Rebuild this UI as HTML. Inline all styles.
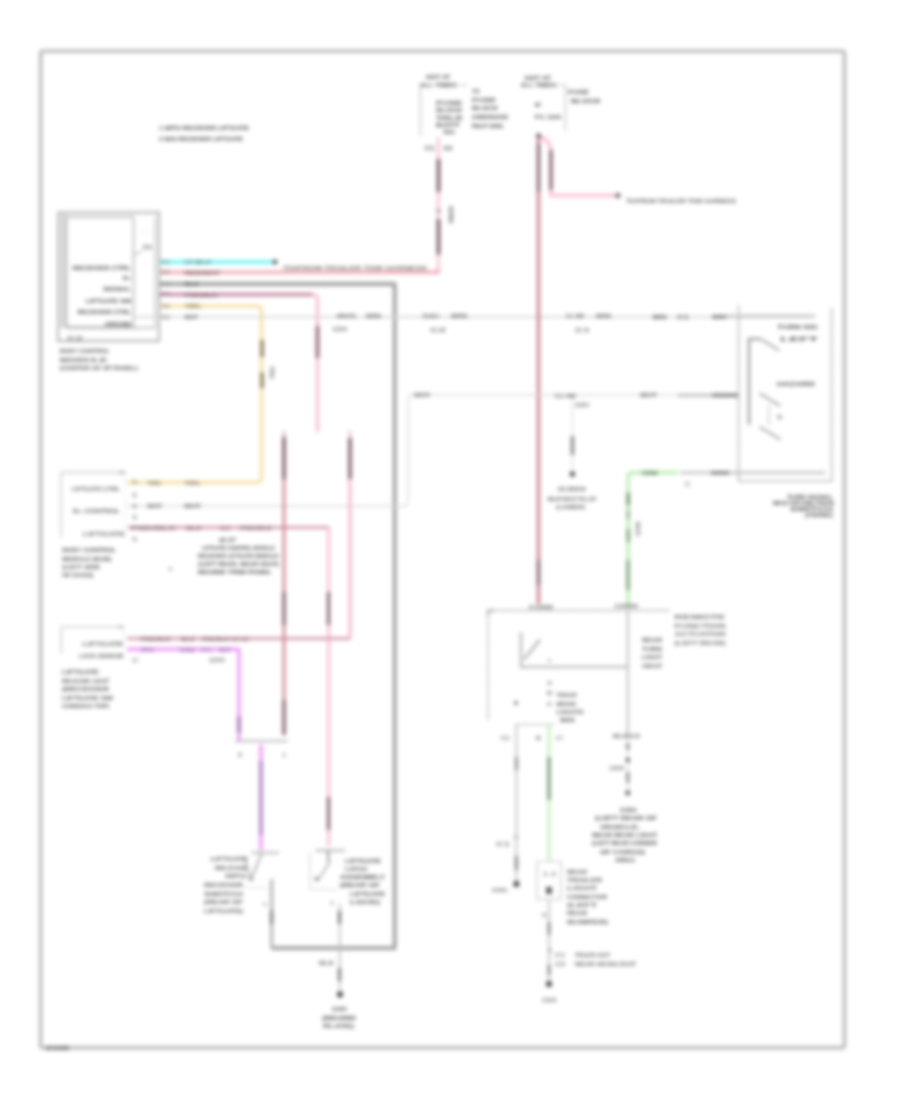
<!DOCTYPE html>
<html><head><meta charset="utf-8"><title>Wiring Diagram</title>
<style>
html,body{margin:0;padding:0;background:#fff;width:900px;height:1100px;overflow:hidden;}
svg{position:absolute;left:0;top:0;filter:blur(2.0px);}
text{font-family:"Liberation Sans",sans-serif;}
</style></head><body>
<svg width="900" height="1100" viewBox="0 0 900 1100">
<rect x="40.7" y="51.1" width="803.7" height="996.7" fill="none" stroke="#b8b8b8" stroke-width="3.4" rx="2"/>
<text x="46" y="1049.5" font-size="6.05" fill="#3a3a3a" font-weight="bold" textLength="23.0" lengthAdjust="spacingAndGlyphs">G100</text>
<text x="159" y="129.7" font-size="6.05" fill="#383838" font-weight="bold" textLength="90.0" lengthAdjust="spacingAndGlyphs">1 WITH RECEIVER LIFTGATE</text>
<text x="159" y="141.2" font-size="6.05" fill="#383838" font-weight="bold" textLength="84.0" lengthAdjust="spacingAndGlyphs">2 W/O RECEIVER LIFTGATE</text>
<rect x="58" y="212.5" width="101" height="128.5" fill="none" stroke="#acacac" stroke-width="2" />
<rect x="58" y="213" width="8.5" height="115" fill="#dadada" stroke="none" stroke-width="1" />
<rect x="66.5" y="217" width="67" height="110" fill="none" stroke="#acacac" stroke-width="1.5" />
<line x1="66.5" y1="328" x2="155" y2="328" stroke="#acacac" stroke-width="1.5" />
<line x1="155" y1="217" x2="155" y2="328" stroke="#bdbdbd" stroke-width="1.4" />
<text x="67" y="339.8" font-size="4.95" fill="#777" font-weight="bold" textLength="16.0" lengthAdjust="spacingAndGlyphs">C2</text>
<text x="141" y="232.4" font-size="3.85" fill="#aaa" font-weight="bold" textLength="11.0" lengthAdjust="spacingAndGlyphs">- - -</text>
<text x="143" y="249.0" font-size="5.5" fill="#383838" font-weight="bold" textLength="9.0" lengthAdjust="spacingAndGlyphs">C1</text>
<line x1="134" y1="255" x2="142" y2="251" stroke="#999" stroke-width="1" />
<text x="72.5" y="269.7" font-size="6.05" fill="#383838" font-weight="bold" textLength="58.5" lengthAdjust="spacingAndGlyphs">RECEIVER CTRL</text>
<text x="123" y="280.2" font-size="6.05" fill="#383838" font-weight="bold" textLength="8.0" lengthAdjust="spacingAndGlyphs">B+</text>
<text x="103" y="291.2" font-size="6.05" fill="#383838" font-weight="bold" textLength="28.0" lengthAdjust="spacingAndGlyphs">SIGNAL</text>
<text x="86" y="303.2" font-size="6.05" fill="#383838" font-weight="bold" textLength="45.0" lengthAdjust="spacingAndGlyphs">LIFTGATE SW</text>
<text x="77.5" y="314.2" font-size="6.05" fill="#383838" font-weight="bold" textLength="53.5" lengthAdjust="spacingAndGlyphs">RECEIVER CTRL</text>
<text x="105" y="326.2" font-size="6.05" fill="#383838" font-weight="bold" textLength="26.0" lengthAdjust="spacingAndGlyphs">GROUND</text>
<text x="59.8" y="353.0" font-size="5.5" fill="#4a4a4a" font-weight="bold" textLength="50.0" lengthAdjust="spacingAndGlyphs">BODY CONTROL</text>
<text x="59.8" y="361.5" font-size="5.5" fill="#4a4a4a" font-weight="bold" textLength="47.5" lengthAdjust="spacingAndGlyphs">MODULE</text>
<text x="59.8" y="370.0" font-size="5.5" fill="#4a4a4a" font-weight="bold" textLength="78.0" lengthAdjust="spacingAndGlyphs">(CENTER OF I/P PANEL)</text>
<line x1="159" y1="262" x2="275" y2="262" stroke="#6bf5f5" stroke-width="3.6" />
<circle cx="275" cy="262" r="2.4" fill="#555"/>
<path d="M159 272.3 H438.3 V268" fill="none" stroke="#ef9fad" stroke-width="3" stroke-linejoin="round" />
<path d="M438.3 270 V137" fill="none" stroke="#f5c4ce" stroke-width="2.8" stroke-linejoin="round" />
<path d="M159 284 H394.7 V948.2 H271.7" fill="none" stroke="#9f9f9f" stroke-width="3.8" stroke-linejoin="round" />
<path d="M159 294.5 H312" fill="none" stroke="#c07695" stroke-width="3" stroke-linejoin="round" />
<path d="M312 294.5 Q317.5 294.5 317.5 300 V432" fill="none" stroke="#f9b9cd" stroke-width="3" stroke-linejoin="round" />
<path d="M159 306 H256.5 Q261.5 306 261.5 311 V477.5 Q261.5 482.5 256.5 482.5 H127" fill="none" stroke="#f3dc9a" stroke-width="3" stroke-linejoin="round" />
<line x1="132" y1="317" x2="815" y2="317" stroke="#d9d9d9" stroke-width="1.8" />
<text x="161" y="263.8" font-size="4.95" fill="#777" font-weight="bold" textLength="9.0" lengthAdjust="spacingAndGlyphs">C1</text>
<text x="161" y="274.3" font-size="4.95" fill="#777" font-weight="bold" textLength="9.0" lengthAdjust="spacingAndGlyphs">C1</text>
<text x="161" y="285.8" font-size="4.95" fill="#777" font-weight="bold" textLength="9.0" lengthAdjust="spacingAndGlyphs">C1</text>
<text x="161" y="296.3" font-size="4.95" fill="#777" font-weight="bold" textLength="9.0" lengthAdjust="spacingAndGlyphs">C1</text>
<text x="161" y="307.8" font-size="4.95" fill="#777" font-weight="bold" textLength="9.0" lengthAdjust="spacingAndGlyphs">C1</text>
<text x="161" y="318.8" font-size="4.95" fill="#777" font-weight="bold" textLength="9.0" lengthAdjust="spacingAndGlyphs">C1</text>
<text x="184.4" y="264.2" font-size="6.05" fill="#3a6a6a" font-weight="bold" textLength="26.6" lengthAdjust="spacingAndGlyphs">LT BLU</text>
<text x="184.4" y="274.5" font-size="6.05" fill="#6a4a50" font-weight="bold" textLength="35.6" lengthAdjust="spacingAndGlyphs">RED/WHT</text>
<text x="184.4" y="286.2" font-size="6.05" fill="#444" font-weight="bold" textLength="14.6" lengthAdjust="spacingAndGlyphs">BLK</text>
<text x="184.4" y="296.7" font-size="6.05" fill="#6a4a5a" font-weight="bold" textLength="33.4" lengthAdjust="spacingAndGlyphs">PNK/BLK</text>
<text x="184.4" y="308.2" font-size="6.05" fill="#6a6040" font-weight="bold" textLength="17.6" lengthAdjust="spacingAndGlyphs">YEL</text>
<text x="184.4" y="319.2" font-size="6.05" fill="#555" font-weight="bold" textLength="13.4" lengthAdjust="spacingAndGlyphs">WHT</text>
<text x="283" y="270.0" font-size="5.5" fill="#666" font-weight="bold" textLength="144.0" lengthAdjust="spacingAndGlyphs">TO/FROM TRAILER TOW HARNESS</text>
<line x1="262" y1="340" x2="262" y2="357" stroke="#8a7a58" stroke-width="3.4" />
<line x1="262" y1="372.5" x2="262" y2="388" stroke="#8a7a58" stroke-width="3.4" />
<text x="273.6" y="380" font-size="4.5" fill="#666" font-weight="bold" transform="rotate(-90 273.6 380)" textLength="15" lengthAdjust="spacingAndGlyphs">YEL</text>
<line x1="317.5" y1="326" x2="317.5" y2="358" stroke="#906070" stroke-width="3.4" />
<line x1="420.4" y1="85" x2="420.4" y2="136" stroke="#bbb" stroke-width="1.2" />
<text x="426" y="78.6" font-size="5.5" fill="#383838" font-weight="bold" textLength="24.0" lengthAdjust="spacingAndGlyphs">HOT AT</text>
<text x="420" y="87.0" font-size="5.5" fill="#383838" font-weight="bold" textLength="36.5" lengthAdjust="spacingAndGlyphs">ALL TIMES</text>
<line x1="456.5" y1="85" x2="467.5" y2="85" stroke="#bbb" stroke-width="1" />
<text x="436" y="105.0" font-size="5.5" fill="#383838" font-weight="bold" textLength="26.5" lengthAdjust="spacingAndGlyphs">FUSE</text>
<text x="436" y="112.3" font-size="5.5" fill="#383838" font-weight="bold" textLength="26.5" lengthAdjust="spacingAndGlyphs">BLOCK</text>
<text x="436" y="119.6" font-size="5.5" fill="#383838" font-weight="bold" textLength="26.5" lengthAdjust="spacingAndGlyphs">TRLR</text>
<text x="436" y="126.9" font-size="5.5" fill="#383838" font-weight="bold" textLength="24.0" lengthAdjust="spacingAndGlyphs">BATT</text>
<text x="443" y="133.6" font-size="5.5" fill="#383838" font-weight="bold" textLength="12.0" lengthAdjust="spacingAndGlyphs">40A</text>
<text x="472" y="93.0" font-size="5.5" fill="#383838" font-weight="bold" textLength="8.0" lengthAdjust="spacingAndGlyphs">11</text>
<text x="472" y="101.7" font-size="5.5" fill="#383838" font-weight="bold" textLength="24.0" lengthAdjust="spacingAndGlyphs">FUSE</text>
<text x="472" y="110.4" font-size="5.5" fill="#383838" font-weight="bold" textLength="26.0" lengthAdjust="spacingAndGlyphs">BLOCK</text>
<text x="472" y="119.1" font-size="5.5" fill="#383838" font-weight="bold" textLength="36.0" lengthAdjust="spacingAndGlyphs">(UNDERHOOD</text>
<text x="472" y="127.8" font-size="5.5" fill="#383838" font-weight="bold" textLength="31.0" lengthAdjust="spacingAndGlyphs">RIGHT SIDE)</text>
<text x="424.7" y="150.0" font-size="5.5" fill="#383838" font-weight="bold" textLength="9.8" lengthAdjust="spacingAndGlyphs">C1</text>
<text x="443" y="150.0" font-size="5.5" fill="#383838" font-weight="bold" textLength="9.8" lengthAdjust="spacingAndGlyphs">11</text>
<line x1="438.5" y1="159" x2="438.5" y2="192" stroke="#7e6068" stroke-width="3.6" />
<line x1="438.5" y1="219" x2="438.5" y2="254.6" stroke="#7e6068" stroke-width="3.6" />
<line x1="438.5" y1="209" x2="438.5" y2="213" stroke="#a08890" stroke-width="3" />
<text x="452.5" y="223" font-size="5" fill="#555" font-weight="bold" transform="rotate(-90 452.5 223)" textLength="17" lengthAdjust="spacingAndGlyphs">RED</text>
<text x="524.5" y="79.5" font-size="5.5" fill="#383838" font-weight="bold" textLength="26.5" lengthAdjust="spacingAndGlyphs">HOT AT</text>
<text x="520.5" y="87.4" font-size="5.5" fill="#383838" font-weight="bold" textLength="35.5" lengthAdjust="spacingAndGlyphs">ALL TIMES</text>
<path d="M556 85 H565.4 V131" fill="none" stroke="#bbb" stroke-width="1.2" stroke-linejoin="round" />
<text x="568" y="94.0" font-size="5.5" fill="#383838" font-weight="bold" textLength="21.0" lengthAdjust="spacingAndGlyphs">FUSE</text>
<text x="570.7" y="102.6" font-size="5.5" fill="#383838" font-weight="bold" textLength="30.3" lengthAdjust="spacingAndGlyphs">BLOCK</text>
<text x="535" y="106.6" font-size="5.5" fill="#383838" font-weight="bold" textLength="6.7" lengthAdjust="spacingAndGlyphs">F</text>
<text x="535" y="119.0" font-size="5.5" fill="#383838" font-weight="bold" textLength="26.5" lengthAdjust="spacingAndGlyphs">F1 10A</text>
<path d="M538.5 136 V604" fill="none" stroke="#cb8695" stroke-width="3.4" stroke-linejoin="round" />
<path d="M538.5 136 Q551 140 551 152 V195.6 H618" fill="none" stroke="#f9b9cd" stroke-width="3" stroke-linejoin="round" />
<circle cx="618" cy="195.6" r="2.4" fill="#555"/>
<circle cx="538.5" cy="135.5" r="2.2" fill="#555"/>
<line x1="538.5" y1="144" x2="538.5" y2="191.6" stroke="#7e6068" stroke-width="3" />
<line x1="551" y1="150" x2="551" y2="190" stroke="#7e6068" stroke-width="3" />
<text x="626" y="203.0" font-size="5.5" fill="#555" font-weight="bold" textLength="110.0" lengthAdjust="spacingAndGlyphs">TO/FROM TRAILER TOW HARNESS</text>
<text x="337" y="318.2" font-size="6.05" fill="#555" font-weight="bold" textLength="20.0" lengthAdjust="spacingAndGlyphs">BRN/YEL</text>
<text x="366" y="318.2" font-size="6.05" fill="#555" font-weight="bold" textLength="15.0" lengthAdjust="spacingAndGlyphs">BRN</text>
<text x="332" y="331.0" font-size="5.5" fill="#666" font-weight="bold" textLength="15.0" lengthAdjust="spacingAndGlyphs">1234</text>
<text x="422" y="318.2" font-size="6.05" fill="#555" font-weight="bold" textLength="17.0" lengthAdjust="spacingAndGlyphs">YEL/BLK</text>
<text x="451" y="318.2" font-size="6.05" fill="#555" font-weight="bold" textLength="16.0" lengthAdjust="spacingAndGlyphs">BRN</text>
<text x="430" y="332.0" font-size="5.5" fill="#666" font-weight="bold" textLength="16.0" lengthAdjust="spacingAndGlyphs">C2</text>
<text x="566" y="318.2" font-size="6.05" fill="#555" font-weight="bold" textLength="18.0" lengthAdjust="spacingAndGlyphs">C1 4W</text>
<text x="596" y="318.2" font-size="6.05" fill="#555" font-weight="bold" textLength="15.0" lengthAdjust="spacingAndGlyphs">BRN</text>
<text x="575" y="332.0" font-size="5.5" fill="#666" font-weight="bold" textLength="15.0" lengthAdjust="spacingAndGlyphs">C1</text>
<text x="652.7" y="318.9" font-size="6.05" fill="#444" font-weight="bold" textLength="14.0" lengthAdjust="spacingAndGlyphs">BRN</text>
<text x="677" y="318.9" font-size="6.05" fill="#555" font-weight="bold" textLength="12.0" lengthAdjust="spacingAndGlyphs">C1</text>
<line x1="712" y1="316.8" x2="727" y2="316.8" stroke="#808080" stroke-width="3.4" />
<path d="M127 506 H403 Q408 506 408 501 V400 Q408 395 413 395 H738" fill="none" stroke="#d9d9d9" stroke-width="1.5" stroke-linejoin="round" />
<text x="414" y="397.2" font-size="6.05" fill="#555" font-weight="bold" textLength="16.0" lengthAdjust="spacingAndGlyphs">WHT</text>
<text x="640" y="397.2" font-size="6.05" fill="#555" font-weight="bold" textLength="17.0" lengthAdjust="spacingAndGlyphs">WHT</text>
<line x1="678" y1="395.3" x2="738" y2="395.3" stroke="#b0b0b0" stroke-width="2.6" />
<line x1="712" y1="395.3" x2="738" y2="395.3" stroke="#808080" stroke-width="3.4" />
<text x="555" y="398.2" font-size="6.05" fill="#555" font-weight="bold" textLength="21.0" lengthAdjust="spacingAndGlyphs">C1 4W</text>
<text x="575" y="407.0" font-size="5.5" fill="#666" font-weight="bold" textLength="15.0" lengthAdjust="spacingAndGlyphs">GRY</text>
<line x1="572.4" y1="400" x2="572.4" y2="474" stroke="#d8d8d8" stroke-width="1.2" />
<line x1="572.4" y1="436" x2="572.4" y2="455" stroke="#8a8a8a" stroke-width="3.4" />
<circle cx="572.4" cy="474" r="2.6" fill="#444"/>
<text x="557.8" y="491.4" font-size="5.5" fill="#555" font-weight="bold" textLength="28.0" lengthAdjust="spacingAndGlyphs">G300</text>
<text x="547.6" y="500.5" font-size="5.5" fill="#555" font-weight="bold" textLength="48.4" lengthAdjust="spacingAndGlyphs">NEAR RIGHT PILLAR</text>
<text x="556" y="508.6" font-size="5.5" fill="#555" font-weight="bold" textLength="29.0" lengthAdjust="spacingAndGlyphs">(LOWER)</text>
<path d="M738.6 305.5 V481.2 H831.7 V307.5" fill="none" stroke="#999999" stroke-width="1.5" stroke-linejoin="round" stroke-dasharray="3,1.2"/>
<line x1="725" y1="316" x2="815" y2="316" stroke="#c0c0c0" stroke-width="2.6" />
<line x1="680" y1="472.8" x2="825.4" y2="472.8" stroke="#c0c0c0" stroke-width="2.6" />
<path d="M628.2 607 V476 Q628.2 472.7 631.5 472.7 H678" fill="none" stroke="#b6eeae" stroke-width="3.2" stroke-linejoin="round" />
<line x1="628.2" y1="492.7" x2="628.2" y2="505.5" stroke="#6a8a68" stroke-width="3" />
<line x1="628.2" y1="510" x2="628.2" y2="519" stroke="#9ab098" stroke-width="3" />
<line x1="628.2" y1="529" x2="628.2" y2="542" stroke="#7a9a78" stroke-width="3" />
<text x="640.2" y="536" font-size="4.5" fill="#666" font-weight="bold" transform="rotate(-90 640.2 536)" textLength="14" lengthAdjust="spacingAndGlyphs">GRN</text>
<text x="642" y="474.9" font-size="6.05" fill="#3a5a38" font-weight="bold" textLength="15.7" lengthAdjust="spacingAndGlyphs">GRN</text>
<line x1="711" y1="472.8" x2="729" y2="472.8" stroke="#808080" stroke-width="3.4" />
<text x="685" y="485.8" font-size="4.95" fill="#666" font-weight="bold" textLength="5.0" lengthAdjust="spacingAndGlyphs">C1</text>
<path d="M760.6 339 H749 V424.7" fill="none" stroke="#a0a0a0" stroke-width="2.6" stroke-linejoin="round" />
<line x1="760.6" y1="339" x2="779.4" y2="350.4" stroke="#999" stroke-width="1.8" />
<line x1="759.5" y1="393.3" x2="780.4" y2="405.9" stroke="#999" stroke-width="1.8" />
<line x1="759.5" y1="426.8" x2="780.4" y2="439.4" stroke="#999" stroke-width="1.8" />
<line x1="769" y1="405" x2="769" y2="425" stroke="#bbb" stroke-width="1.2" />
<text x="777.3" y="329.4" font-size="5.5" fill="#383838" font-weight="bold" textLength="40.7" lengthAdjust="spacingAndGlyphs">TURN SIG</text>
<text x="780.4" y="341.0" font-size="5.5" fill="#383838" font-weight="bold" textLength="37.6" lengthAdjust="spacingAndGlyphs">LEFT</text>
<text x="777" y="386.0" font-size="5.5" fill="#383838" font-weight="bold" textLength="38.0" lengthAdjust="spacingAndGlyphs">HAZARD</text>
<text x="777.5" y="419.2" font-size="4.95" fill="#666" font-weight="bold" textLength="4.5" lengthAdjust="spacingAndGlyphs">B</text>
<text x="787" y="499.4" font-size="5.28" fill="#383838" font-weight="bold" textLength="46.0" lengthAdjust="spacingAndGlyphs">TURN SIGNAL</text>
<text x="773" y="505.4" font-size="5.28" fill="#383838" font-weight="bold" textLength="60.8" lengthAdjust="spacingAndGlyphs">MULTIFUNCTION</text>
<text x="790" y="511.4" font-size="5.28" fill="#383838" font-weight="bold" textLength="43.0" lengthAdjust="spacingAndGlyphs">SWITCH</text>
<text x="805" y="517.4" font-size="5.28" fill="#383838" font-weight="bold" textLength="28.0" lengthAdjust="spacingAndGlyphs">(STEERING)</text>
<path d="M125 472.5 H61 V537.5" fill="none" stroke="#c4c4c4" stroke-width="1.3" stroke-linejoin="round" />
<line x1="125" y1="472" x2="125" y2="537" stroke="#ddd" stroke-width="1" stroke-dasharray="2,2"/>
<text x="72" y="491.2" font-size="6.05" fill="#555" font-weight="bold" textLength="48.0" lengthAdjust="spacingAndGlyphs">LIFTGATE CTRL</text>
<text x="73" y="513.2" font-size="6.05" fill="#555" font-weight="bold" textLength="47.0" lengthAdjust="spacingAndGlyphs">B+ CONTROL</text>
<text x="83" y="535.7" font-size="6.05" fill="#555" font-weight="bold" textLength="42.0" lengthAdjust="spacingAndGlyphs">LIFTGATE</text>
<line x1="119" y1="472.5" x2="125" y2="472.5" stroke="#888" stroke-width="1.5" />
<text x="131" y="483.8" font-size="4.95" fill="#888" font-weight="bold" textLength="7.0" lengthAdjust="spacingAndGlyphs">1</text>
<text x="131" y="496.8" font-size="4.95" fill="#888" font-weight="bold" textLength="7.0" lengthAdjust="spacingAndGlyphs">1</text>
<text x="131" y="507.8" font-size="4.95" fill="#888" font-weight="bold" textLength="7.0" lengthAdjust="spacingAndGlyphs">1</text>
<text x="131" y="518.8" font-size="4.95" fill="#888" font-weight="bold" textLength="7.0" lengthAdjust="spacingAndGlyphs">1</text>
<text x="131" y="540.8" font-size="4.95" fill="#888" font-weight="bold" textLength="7.0" lengthAdjust="spacingAndGlyphs">1</text>
<path d="M128 527.5 H328.7 V846" fill="none" stroke="#f9b9cd" stroke-width="2.8" stroke-linejoin="round" />
<line x1="128" y1="527.5" x2="328" y2="527.5" stroke="#d7a0b0" stroke-width="3" />
<text x="147" y="484.7" font-size="6.05" fill="#6a6050" font-weight="bold" textLength="15.0" lengthAdjust="spacingAndGlyphs">YEL</text>
<text x="184" y="484.7" font-size="6.05" fill="#6a6050" font-weight="bold" textLength="17.0" lengthAdjust="spacingAndGlyphs">YEL</text>
<text x="147" y="508.2" font-size="6.05" fill="#555" font-weight="bold" textLength="15.0" lengthAdjust="spacingAndGlyphs">WHT</text>
<text x="184" y="508.2" font-size="6.05" fill="#555" font-weight="bold" textLength="17.0" lengthAdjust="spacingAndGlyphs">WHT</text>
<text x="131" y="529.7" font-size="6.05" fill="#7a5a64" font-weight="bold" textLength="45.0" lengthAdjust="spacingAndGlyphs">PNK/BLK</text>
<text x="186" y="529.7" font-size="6.05" fill="#7a5a64" font-weight="bold" textLength="16.0" lengthAdjust="spacingAndGlyphs">BLK</text>
<text x="220" y="529.7" font-size="6.05" fill="#7a5a64" font-weight="bold" textLength="10.0" lengthAdjust="spacingAndGlyphs">C1</text>
<text x="240" y="529.7" font-size="6.05" fill="#7a5a64" font-weight="bold" textLength="32.0" lengthAdjust="spacingAndGlyphs">PNK/BLK</text>
<text x="62.2" y="552.4" font-size="5.5" fill="#444" font-weight="bold" textLength="54.0" lengthAdjust="spacingAndGlyphs">BODY CONTROL</text>
<text x="62.2" y="560.7" font-size="5.5" fill="#444" font-weight="bold" textLength="49.0" lengthAdjust="spacingAndGlyphs">MODULE (BCM)</text>
<text x="62.2" y="569.0" font-size="5.5" fill="#444" font-weight="bold" textLength="38.0" lengthAdjust="spacingAndGlyphs">(LEFT SIDE</text>
<text x="62.2" y="577.3" font-size="5.5" fill="#444" font-weight="bold" textLength="31.0" lengthAdjust="spacingAndGlyphs">OF DASH)</text>
<text x="219" y="541.5" font-size="5.5" fill="#383838" font-weight="bold" textLength="17.0" lengthAdjust="spacingAndGlyphs">(W/ LIFT</text>
<text x="202" y="549.5" font-size="5.5" fill="#383838" font-weight="bold" textLength="73.0" lengthAdjust="spacingAndGlyphs">LIFTGATE CONTROL MODULE</text>
<text x="198" y="557.5" font-size="5.5" fill="#383838" font-weight="bold" textLength="81.0" lengthAdjust="spacingAndGlyphs">RECEIVER LIFTGATE MODULE</text>
<text x="198" y="565.5" font-size="5.5" fill="#383838" font-weight="bold" textLength="81.0" lengthAdjust="spacingAndGlyphs">(LEFT REAR, NEAR SEAT)</text>
<text x="198" y="573.5" font-size="5.5" fill="#383838" font-weight="bold" textLength="74.0" lengthAdjust="spacingAndGlyphs">BEHIND TRIM PANEL</text>
<text x="168" y="570.8" font-size="4.95" fill="#888" font-weight="bold" textLength="4.0" lengthAdjust="spacingAndGlyphs">4</text>
<path d="M123.5 626.8 H61.3 V654" fill="none" stroke="#c4c4c4" stroke-width="1.3" stroke-linejoin="round" />
<line x1="123.5" y1="626.8" x2="123.5" y2="640" stroke="#ccc" stroke-width="1" stroke-dasharray="2,2"/>
<line x1="118" y1="626.8" x2="123.5" y2="626.8" stroke="#999" stroke-width="1.4" />
<text x="82.6" y="645.9" font-size="6.05" fill="#555" font-weight="bold" textLength="40.9" lengthAdjust="spacingAndGlyphs">LIFTGATE</text>
<text x="79" y="658.2" font-size="6.05" fill="#555" font-weight="bold" textLength="44.5" lengthAdjust="spacingAndGlyphs">LOCK SENSOR</text>
<path d="M127 638.5 H350 V435" fill="none" stroke="#f9b9cd" stroke-width="2.8" stroke-linejoin="round" />
<line x1="127" y1="638.5" x2="350" y2="638.5" stroke="#d7a0b0" stroke-width="3.2" />
<path d="M127 649.3 H239 V741" fill="none" stroke="#ee9cf6" stroke-width="3.4" stroke-linejoin="round" />
<text x="132" y="661.8" font-size="4.95" fill="#777" font-weight="bold" textLength="6.0" lengthAdjust="spacingAndGlyphs">12</text>
<text x="208.7" y="662.0" font-size="5.5" fill="#666" font-weight="bold" textLength="16.0" lengthAdjust="spacingAndGlyphs">1234</text>
<text x="140.7" y="641.2" font-size="6.05" fill="#7a5a64" font-weight="bold" textLength="30.3" lengthAdjust="spacingAndGlyphs">PNK/BLK</text>
<text x="181" y="641.2" font-size="6.05" fill="#7a5a64" font-weight="bold" textLength="14.0" lengthAdjust="spacingAndGlyphs">BLK</text>
<text x="202" y="641.2" font-size="6.05" fill="#7a5a64" font-weight="bold" textLength="46.7" lengthAdjust="spacingAndGlyphs">PNK/BLK C1 C2</text>
<text x="141" y="651.7" font-size="6.05" fill="#8a64a0" font-weight="bold" textLength="14.0" lengthAdjust="spacingAndGlyphs">PPL</text>
<text x="179" y="651.7" font-size="6.05" fill="#8a64a0" font-weight="bold" textLength="16.0" lengthAdjust="spacingAndGlyphs">VIO</text>
<text x="200.7" y="651.7" font-size="6.05" fill="#9a7aa8" font-weight="bold" textLength="12.0" lengthAdjust="spacingAndGlyphs">PPL</text>
<text x="218.7" y="651.7" font-size="6.05" fill="#8a64a0" font-weight="bold" textLength="12.3" lengthAdjust="spacingAndGlyphs">WHT</text>
<text x="62" y="674.0" font-size="5.5" fill="#444" font-weight="bold" textLength="37.0" lengthAdjust="spacingAndGlyphs">LIFTGATE</text>
<text x="62" y="682.5" font-size="5.5" fill="#444" font-weight="bold" textLength="47.0" lengthAdjust="spacingAndGlyphs">RELEASE LIGHT</text>
<text x="62" y="691.0" font-size="5.5" fill="#444" font-weight="bold" textLength="47.0" lengthAdjust="spacingAndGlyphs">(RECEIVER</text>
<text x="62" y="699.5" font-size="5.5" fill="#444" font-weight="bold" textLength="51.0" lengthAdjust="spacingAndGlyphs">LIFTGATE SW</text>
<text x="62" y="708.0" font-size="5.5" fill="#444" font-weight="bold" textLength="47.0" lengthAdjust="spacingAndGlyphs">CONSOLE TOP)</text>
<path d="M284 435 V735" fill="none" stroke="#cb8695" stroke-width="2.8" stroke-linejoin="round" />
<path d="M350 435 V639" fill="none" stroke="#f9b9cd" stroke-width="2.8" stroke-linejoin="round" />
<line x1="284" y1="438" x2="284" y2="479" stroke="#7e6068" stroke-width="3.4" />
<line x1="350" y1="438" x2="350" y2="479" stroke="#7e6068" stroke-width="3.4" />
<line x1="284" y1="592" x2="284" y2="625" stroke="#7e6068" stroke-width="3" />
<line x1="328.5" y1="592" x2="328.5" y2="625" stroke="#7e6068" stroke-width="3" />
<line x1="284" y1="700" x2="284" y2="735" stroke="#7e6068" stroke-width="3" />
<line x1="239" y1="716.4" x2="239" y2="732.7" stroke="#a078b0" stroke-width="3.4" />
<text x="282" y="433.6" font-size="4.4" fill="#888" font-weight="bold" textLength="4.0" lengthAdjust="spacingAndGlyphs">1</text>
<text x="348" y="433.6" font-size="4.4" fill="#888" font-weight="bold" textLength="4.0" lengthAdjust="spacingAndGlyphs">1</text>
<line x1="235" y1="741" x2="287.5" y2="741" stroke="#b8b8b8" stroke-width="2" />
<text x="238" y="756.8" font-size="4.95" fill="#777" font-weight="bold" textLength="4.0" lengthAdjust="spacingAndGlyphs">B</text>
<text x="282" y="756.8" font-size="4.95" fill="#777" font-weight="bold" textLength="4.0" lengthAdjust="spacingAndGlyphs">1</text>
<path d="M261 744.5 V850" fill="none" stroke="#ee9cf6" stroke-width="3.6" stroke-linejoin="round" />
<line x1="261" y1="761" x2="261" y2="835" stroke="#b08ac0" stroke-width="3.6" />
<line x1="328.5" y1="797" x2="328.5" y2="830" stroke="#7e6068" stroke-width="3" />
<line x1="252" y1="852.7" x2="279" y2="852.7" stroke="#c4c4c4" stroke-width="2.6" />
<line x1="262" y1="853" x2="251" y2="879" stroke="#999" stroke-width="1.6" />
<line x1="244" y1="857" x2="251" y2="879" stroke="#aaa" stroke-width="1.3" />
<circle cx="251" cy="879" r="1.8" fill="#777"/>
<line x1="246" y1="888" x2="268" y2="888" stroke="#bbb" stroke-width="1.2" stroke-dasharray="2,1.5"/>
<text x="210.5" y="861.4" font-size="5.5" fill="#4a4a4a" font-weight="bold" textLength="37.5" lengthAdjust="spacingAndGlyphs">LIFTGATE</text>
<text x="215" y="869.7" font-size="5.5" fill="#4a4a4a" font-weight="bold" textLength="33.0" lengthAdjust="spacingAndGlyphs">RELEASE</text>
<text x="225" y="878.0" font-size="5.5" fill="#4a4a4a" font-weight="bold" textLength="22.0" lengthAdjust="spacingAndGlyphs">SWITCH</text>
<text x="204" y="887.0" font-size="5.5" fill="#4a4a4a" font-weight="bold" textLength="39.0" lengthAdjust="spacingAndGlyphs">RECEIVER</text>
<text x="204" y="895.5" font-size="5.5" fill="#4a4a4a" font-weight="bold" textLength="39.0" lengthAdjust="spacingAndGlyphs">SWITCH</text>
<text x="204" y="904.0" font-size="5.5" fill="#4a4a4a" font-weight="bold" textLength="39.0" lengthAdjust="spacingAndGlyphs">(REAR OF</text>
<text x="204" y="912.5" font-size="5.5" fill="#4a4a4a" font-weight="bold" textLength="39.0" lengthAdjust="spacingAndGlyphs">LIFTGATE)</text>
<path d="M271.7 879 V948.2" fill="none" stroke="#9f9f9f" stroke-width="2.4" stroke-linejoin="round" />
<text x="263" y="905.8" font-size="4.95" fill="#888" font-weight="bold" textLength="4.0" lengthAdjust="spacingAndGlyphs">1</text>
<line x1="271.7" y1="910.6" x2="271.7" y2="924" stroke="#777" stroke-width="3" />
<line x1="316" y1="850.5" x2="345" y2="850.5" stroke="#c0c0c0" stroke-width="2.6" />
<line x1="327" y1="850.5" x2="327" y2="851" stroke="#888" stroke-width="3" />
<path d="M310 852 V889.4 H337" fill="none" stroke="#c8c8c8" stroke-width="1.4" stroke-linejoin="round" stroke-dasharray="2.5,1.2"/>
<line x1="328.3" y1="851" x2="328.3" y2="862" stroke="#999" stroke-width="2.2" />
<line x1="330" y1="862" x2="318" y2="880" stroke="#aaa" stroke-width="1.6" />
<circle cx="316.5" cy="879" r="2" fill="#888"/>
<text x="345" y="862.5" font-size="5.5" fill="#383838" font-weight="bold" textLength="36.0" lengthAdjust="spacingAndGlyphs">LIFTGATE</text>
<text x="345" y="870.8" font-size="5.5" fill="#383838" font-weight="bold" textLength="22.0" lengthAdjust="spacingAndGlyphs">LATCH</text>
<text x="340" y="879.1" font-size="5.5" fill="#383838" font-weight="bold" textLength="45.0" lengthAdjust="spacingAndGlyphs">ASSEMBLY</text>
<text x="340" y="887.4" font-size="5.5" fill="#383838" font-weight="bold" textLength="40.0" lengthAdjust="spacingAndGlyphs">(REAR OF</text>
<text x="350" y="895.7" font-size="5.5" fill="#383838" font-weight="bold" textLength="35.0" lengthAdjust="spacingAndGlyphs">LIFTGATE</text>
<text x="350" y="904.0" font-size="5.5" fill="#383838" font-weight="bold" textLength="30.0" lengthAdjust="spacingAndGlyphs">LOCK)</text>
<path d="M339.8 904 V994" fill="none" stroke="#c0c0c0" stroke-width="1.8" stroke-linejoin="round" />
<text x="330" y="904.8" font-size="4.95" fill="#888" font-weight="bold" textLength="4.0" lengthAdjust="spacingAndGlyphs">1</text>
<line x1="339.5" y1="910.6" x2="339.5" y2="924" stroke="#777" stroke-width="3" />
<line x1="339.5" y1="968" x2="339.5" y2="981" stroke="#777" stroke-width="3" />
<text x="319" y="964.5" font-size="5.5" fill="#555" font-weight="bold" textLength="15.0" lengthAdjust="spacingAndGlyphs">BLK</text>
<circle cx="340" cy="994.5" r="3" fill="#444"/>
<text x="332" y="1011.0" font-size="5.5" fill="#383838" font-weight="bold" textLength="15.0" lengthAdjust="spacingAndGlyphs">G401</text>
<text x="322" y="1019.5" font-size="5.5" fill="#383838" font-weight="bold" textLength="34.0" lengthAdjust="spacingAndGlyphs">(BEHIND</text>
<text x="323" y="1028.0" font-size="5.5" fill="#383838" font-weight="bold" textLength="31.0" lengthAdjust="spacingAndGlyphs">PLATE)</text>
<line x1="488" y1="610.5" x2="670" y2="610.5" stroke="#a0a0a0" stroke-width="1.4" stroke-dasharray="3,1.2"/>
<path d="M488 616 V610.5 H494" fill="none" stroke="#888" stroke-width="1.4" stroke-linejoin="round" />
<line x1="488" y1="610.5" x2="488" y2="721" stroke="#a8a8a8" stroke-width="1.4" stroke-dasharray="3,1.2"/>
<text x="529" y="608.5" font-size="5.5" fill="#555" font-weight="bold" textLength="24.0" lengthAdjust="spacingAndGlyphs">C1000</text>
<text x="614.8" y="608.3" font-size="5.5" fill="#555" font-weight="bold" textLength="23.2" lengthAdjust="spacingAndGlyphs">C2000</text>
<line x1="538.5" y1="560" x2="538.5" y2="585" stroke="#7e6068" stroke-width="3" />
<line x1="628" y1="560" x2="628" y2="590" stroke="#7a9a78" stroke-width="3" />
<path d="M521 632 V667 H627.5" fill="none" stroke="#bcbcbc" stroke-width="2.6" stroke-linejoin="round" />
<line x1="524" y1="659.5" x2="540" y2="639.5" stroke="#aaa" stroke-width="2.2" />
<text x="547" y="661.5" font-size="5.5" fill="#777" font-weight="bold" textLength="5.0" lengthAdjust="spacingAndGlyphs">+</text>
<path d="M627.8 607 V734" fill="none" stroke="#c4c4c4" stroke-width="2.4" stroke-linejoin="round" />
<line x1="627.8" y1="734" x2="627.8" y2="794" stroke="#d0d0d0" stroke-width="1.2" />
<text x="642" y="642.0" font-size="5.5" fill="#444" font-weight="bold" textLength="20.0" lengthAdjust="spacingAndGlyphs">REAR</text>
<text x="642" y="650.5" font-size="5.5" fill="#444" font-weight="bold" textLength="20.0" lengthAdjust="spacingAndGlyphs">TURN</text>
<text x="642" y="659.0" font-size="5.5" fill="#444" font-weight="bold" textLength="20.0" lengthAdjust="spacingAndGlyphs">LIGHT</text>
<text x="642" y="667.5" font-size="5.5" fill="#444" font-weight="bold" textLength="20.0" lengthAdjust="spacingAndGlyphs">CIRCUIT</text>
<text x="674.6" y="619.2" font-size="6.05" fill="#5a5a5a" font-weight="bold" textLength="51.0" lengthAdjust="spacingAndGlyphs">REMOTE</text>
<text x="674.6" y="627.8" font-size="6.05" fill="#5a5a5a" font-weight="bold" textLength="51.0" lengthAdjust="spacingAndGlyphs">FUNCTION</text>
<text x="674.6" y="636.4" font-size="6.05" fill="#5a5a5a" font-weight="bold" textLength="51.0" lengthAdjust="spacingAndGlyphs">ACTUATOR</text>
<text x="674.6" y="645.0" font-size="6.05" fill="#5a5a5a" font-weight="bold" textLength="51.0" lengthAdjust="spacingAndGlyphs">(LEFT REAR)</text>
<text x="547" y="684.5" font-size="4.95" fill="#666" font-weight="bold" textLength="5.0" lengthAdjust="spacingAndGlyphs">A</text>
<text x="547" y="695.3" font-size="4.95" fill="#666" font-weight="bold" textLength="5.0" lengthAdjust="spacingAndGlyphs">B</text>
<text x="547" y="705.8" font-size="4.95" fill="#666" font-weight="bold" textLength="5.0" lengthAdjust="spacingAndGlyphs">C</text>
<text x="556.5" y="697.3" font-size="5.06" fill="#444" font-weight="bold" textLength="20.0" lengthAdjust="spacingAndGlyphs">TRAILER</text>
<text x="556.5" y="705.6" font-size="5.06" fill="#444" font-weight="bold" textLength="20.0" lengthAdjust="spacingAndGlyphs">BRAKE</text>
<text x="556.5" y="713.9" font-size="5.06" fill="#444" font-weight="bold" textLength="27.0" lengthAdjust="spacingAndGlyphs">LIGHTS</text>
<text x="560" y="722.2" font-size="5.06" fill="#444" font-weight="bold" textLength="15.0" lengthAdjust="spacingAndGlyphs">MOD</text>
<circle cx="516" cy="703" r="1.8" fill="#555"/>
<line x1="515" y1="724.5" x2="553.5" y2="724.5" stroke="#aaa" stroke-width="1.3" stroke-dasharray="2.5,1.5"/>
<text x="501" y="739.6" font-size="5.5" fill="#666" font-weight="bold" textLength="9.0" lengthAdjust="spacingAndGlyphs">C1</text>
<text x="536" y="739.6" font-size="5.5" fill="#666" font-weight="bold" textLength="5.0" lengthAdjust="spacingAndGlyphs">B</text>
<text x="556" y="739.6" font-size="5.5" fill="#666" font-weight="bold" textLength="7.0" lengthAdjust="spacingAndGlyphs">C?</text>
<line x1="627.8" y1="743" x2="627.8" y2="750" stroke="#888" stroke-width="3" />
<circle cx="627.8" cy="760" r="2.2" fill="#555"/>
<text x="609" y="769.8" font-size="5.5" fill="#666" font-weight="bold" textLength="15.0" lengthAdjust="spacingAndGlyphs">1234</text>
<line x1="627.8" y1="772" x2="627.8" y2="783" stroke="#888" stroke-width="3" />
<circle cx="627.8" cy="793" r="2.4" fill="#555"/>
<text x="613" y="737.5" font-size="5.5" fill="#555" font-weight="bold" textLength="27.0" lengthAdjust="spacingAndGlyphs">BLK/C2</text>
<text x="620" y="812.0" font-size="5.5" fill="#383838" font-weight="bold" textLength="17.0" lengthAdjust="spacingAndGlyphs">G301</text>
<text x="595" y="820.3" font-size="5.5" fill="#383838" font-weight="bold" textLength="62.0" lengthAdjust="spacingAndGlyphs">(LEFT REAR OF</text>
<text x="600" y="828.6" font-size="5.5" fill="#383838" font-weight="bold" textLength="40.0" lengthAdjust="spacingAndGlyphs">VEHICLE,</text>
<text x="592" y="836.9" font-size="5.5" fill="#383838" font-weight="bold" textLength="65.0" lengthAdjust="spacingAndGlyphs">NEAR REAR LIGHT</text>
<text x="592" y="845.2" font-size="5.5" fill="#383838" font-weight="bold" textLength="65.0" lengthAdjust="spacingAndGlyphs">(LEFT REAR CORNER</text>
<text x="600" y="853.5" font-size="5.5" fill="#383838" font-weight="bold" textLength="45.0" lengthAdjust="spacingAndGlyphs">OF CARGO)</text>
<text x="615" y="861.8" font-size="5.5" fill="#383838" font-weight="bold" textLength="20.0" lengthAdjust="spacingAndGlyphs">AREA</text>
<path d="M516.4 724.5 V884" fill="none" stroke="#c4c4c4" stroke-width="2" stroke-linejoin="round" />
<line x1="516.4" y1="757" x2="516.4" y2="770" stroke="#888" stroke-width="2.8" />
<line x1="516.4" y1="856" x2="516.4" y2="870" stroke="#888" stroke-width="3.2" />
<line x1="513" y1="837.3" x2="519" y2="837.3" stroke="#999" stroke-width="1.2" />
<text x="496" y="846.0" font-size="5.5" fill="#666" font-weight="bold" textLength="14.0" lengthAdjust="spacingAndGlyphs">C1</text>
<circle cx="516.4" cy="884" r="3" fill="#444"/>
<text x="492" y="892.0" font-size="5.5" fill="#666" font-weight="bold" textLength="15.5" lengthAdjust="spacingAndGlyphs">G301</text>
<path d="M549 724.5 V861.5" fill="none" stroke="#c4eebc" stroke-width="2.8" stroke-linejoin="round" />
<line x1="549" y1="757" x2="549" y2="800" stroke="#7a9a78" stroke-width="3.2" />
<rect x="537" y="861.5" width="24" height="37.9" fill="none" stroke="#b4b4b4" stroke-width="1.2" stroke-dasharray="3,1"/>
<line x1="549" y1="887" x2="549" y2="894" stroke="#555" stroke-width="5.5" />
<text x="543" y="875.8" font-size="4.95" fill="#777" font-weight="bold" textLength="13.0" lengthAdjust="spacingAndGlyphs">1 2</text>
<text x="567" y="873.8" font-size="5.5" fill="#4a4a4a" font-weight="bold" textLength="20.0" lengthAdjust="spacingAndGlyphs">REAR</text>
<text x="567" y="882.1" font-size="5.5" fill="#4a4a4a" font-weight="bold" textLength="35.0" lengthAdjust="spacingAndGlyphs">TRAILER</text>
<text x="567" y="890.4" font-size="5.5" fill="#4a4a4a" font-weight="bold" textLength="30.0" lengthAdjust="spacingAndGlyphs">LIGHT</text>
<text x="567" y="898.7" font-size="5.5" fill="#4a4a4a" font-weight="bold" textLength="40.0" lengthAdjust="spacingAndGlyphs">CONNECTOR</text>
<text x="567" y="907.0" font-size="5.5" fill="#4a4a4a" font-weight="bold" textLength="30.0" lengthAdjust="spacingAndGlyphs">(LEFT</text>
<text x="567" y="915.3" font-size="5.5" fill="#4a4a4a" font-weight="bold" textLength="20.0" lengthAdjust="spacingAndGlyphs">REAR</text>
<text x="567" y="923.6" font-size="5.5" fill="#4a4a4a" font-weight="bold" textLength="41.0" lengthAdjust="spacingAndGlyphs">BUMPER)</text>
<path d="M549 900 V984" fill="none" stroke="#c4c4c4" stroke-width="2" stroke-linejoin="round" />
<text x="542" y="916.8" font-size="4.95" fill="#666" font-weight="bold" textLength="5.0" lengthAdjust="spacingAndGlyphs">C1</text>
<line x1="549" y1="922" x2="549" y2="935" stroke="#888" stroke-width="3" />
<line x1="549" y1="965" x2="549" y2="975" stroke="#888" stroke-width="3" />
<text x="548" y="951.8" font-size="4.95" fill="#777" font-weight="bold" textLength="4.0" lengthAdjust="spacingAndGlyphs">1</text>
<text x="555" y="957.0" font-size="5.5" fill="#666" font-weight="bold" textLength="10.0" lengthAdjust="spacingAndGlyphs">C1</text>
<text x="555" y="966.0" font-size="5.5" fill="#666" font-weight="bold" textLength="10.0" lengthAdjust="spacingAndGlyphs">C2</text>
<text x="575" y="957.0" font-size="5.5" fill="#555" font-weight="bold" textLength="35.0" lengthAdjust="spacingAndGlyphs">TRAILER LIGHT</text>
<text x="575" y="966.0" font-size="5.5" fill="#555" font-weight="bold" textLength="61.0" lengthAdjust="spacingAndGlyphs">NEAR HEADLIGHT</text>
<circle cx="549" cy="984" r="3" fill="#444"/>
<text x="542" y="1001.5" font-size="5.5" fill="#666" font-weight="bold" textLength="15.0" lengthAdjust="spacingAndGlyphs">G301</text>
</svg>
</body></html>
